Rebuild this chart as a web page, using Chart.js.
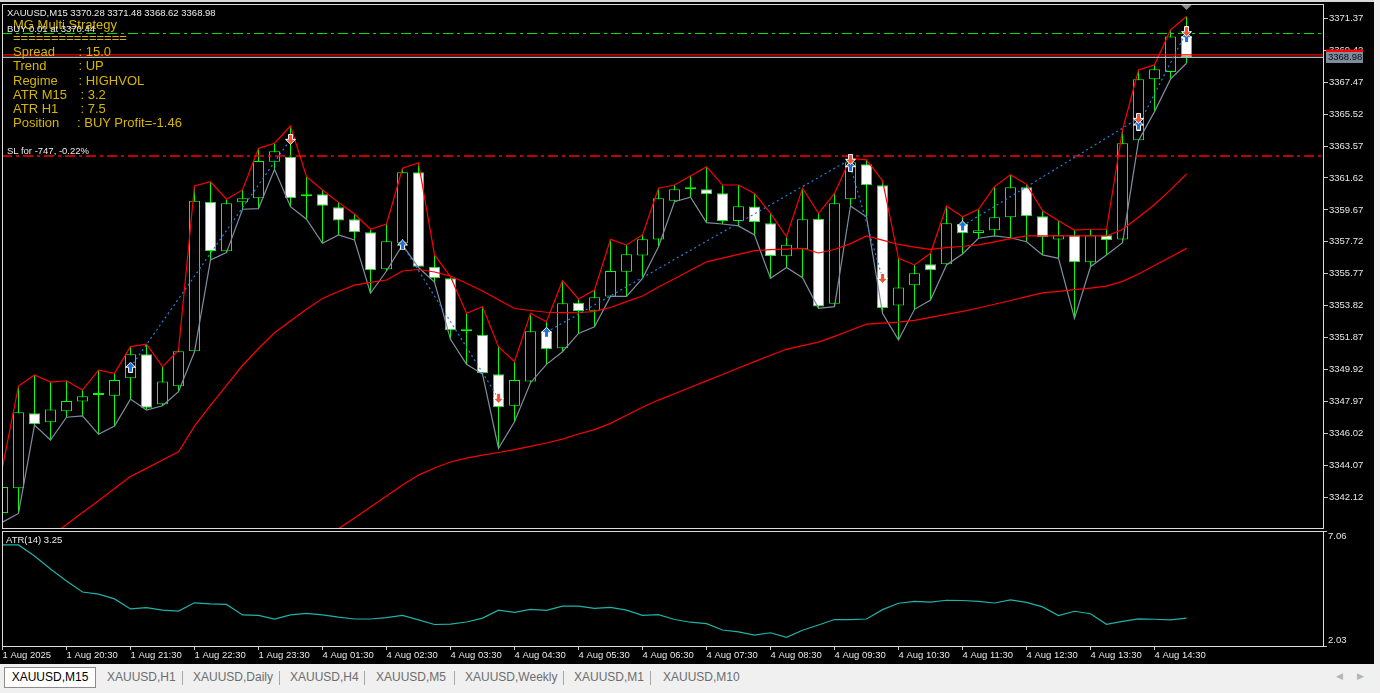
<!DOCTYPE html>
<html><head><meta charset="utf-8">
<script src="https://cdn.jsdelivr.net/npm/chart.js@4.4.1/dist/chart.umd.min.js"></script>
<style>
html,body{margin:0;padding:0;background:#000;width:1380px;height:693px;overflow:hidden;position:relative;font-family:"Liberation Sans",Arial,sans-serif}
canvas{position:absolute;left:0}
#main{top:0}
#atr{top:530px}
.t{position:absolute;white-space:pre;color:#ececec;font-size:9.5px;line-height:11px}
.g{position:absolute;white-space:pre;color:#d6b600;font-size:13px;line-height:15px}
#topbar{position:absolute;left:0;top:0;width:1380px;height:2px;background:#d8d8d8}
#rightbar{position:absolute;left:1374px;top:0;width:6px;height:664px;background:#f0f0f0}
#tabs{position:absolute;left:0;top:664px;width:1380px;height:29px;background:#f0f0f0;font-size:12px}
.tab{position:absolute;top:6px;line-height:14px;color:#6d6d6d;white-space:pre}
.act{position:absolute;left:4px;top:3px;width:90px;height:19px;border:1px solid #8c8c8c;background:#fff;color:#000;text-align:center;line-height:19px}
.sep{position:absolute;top:7px;width:1px;height:14px;background:#a8a8a8}
.arr{position:absolute;top:7px;font-size:9px;color:#b4b4b4;font-family:"DejaVu Sans"}
</style></head>
<body>
<canvas id="main" width="1380" height="530"></canvas>
<canvas id="atr" width="1380" height="133"></canvas>
<div id="topbar"></div>
<div id="rightbar"></div>

<div class="t" id="hdr" style="left:7px;top:6.5px"></div>
<div class="g" style="left:13px;top:16.5px">MG Multi Strategy</div>
<div class="t" style="left:7px;top:23px">BUY 0.01 at 3370.44</div>
<div class="g" style="left:13px;top:29.5px">===============</div>
<div class="g" style="left:13px;top:44px">Spread</div><div class="g" style="left:78.5px;top:44px">: 15.0</div>
<div class="g" style="left:13px;top:58px">Trend</div><div class="g" style="left:78.5px;top:58px">: UP</div>
<div class="g" style="left:13px;top:72.5px">Regime</div><div class="g" style="left:78.5px;top:72.5px">: HIGHVOL</div>
<div class="g" style="left:13px;top:86.8px">ATR M15</div><div class="g" style="left:80.5px;top:86.8px">: 3.2</div>
<div class="g" style="left:13px;top:100.8px">ATR H1</div><div class="g" style="left:80.5px;top:100.8px">: 7.5</div>
<div class="g" style="left:13px;top:114.8px">Position</div><div class="g" style="left:77px;top:114.8px">: BUY Profit=-1.46</div>
<div class="t" style="left:7px;top:145px">SL for -747, -0.22%</div>
<div class="t" style="left:6px;top:534px">ATR(14) 3.25</div>

<div id="tabs">
  <div class="act">XAUUSD,M15</div>
  <div class="tab" style="left:107px">XAUUSD,H1</div>
  <div class="sep" style="left:182px"></div>
  <div class="tab" style="left:193px">XAUUSD,Daily</div>
  <div class="sep" style="left:279px"></div>
  <div class="tab" style="left:290px">XAUUSD,H4</div>
  <div class="sep" style="left:364px"></div>
  <div class="tab" style="left:376px">XAUUSD,M5</div>
  <div class="sep" style="left:454px"></div>
  <div class="tab" style="left:465px">XAUUSD,Weekly</div>
  <div class="sep" style="left:563px"></div>
  <div class="tab" style="left:574px">XAUUSD,M1</div>
  <div class="sep" style="left:650px"></div>
  <div class="tab" style="left:663px">XAUUSD,M10</div>
  <div class="arr" style="left:1336px">&#9664;</div>
  <div class="arr" style="left:1357px">&#9654;</div>
</div>

<script>
// ---------- data ----------
const OPEN = [3341.16,3342.67,3347.25,3346.70,3347.37,3347.98,3348.37,3348.32,3349.39,3350.85,
3347.80,3348.90,3351.04,3360.17,3357.14,3360.13,3360.38,3362.61,3362.92,3360.50,
3360.62,3359.83,3359.10,3358.30,3356.04,3357.63,3361.97,3356.20,3355.49,3352.26,
3352.05,3349.63,3347.71,3349.20,3352.26,3351.22,3354.00,3353.51,3354.39,3355.90,
3356.89,3357.87,3360.23,3360.93,3360.93,3360.68,3358.99,3359.87,3358.85,3356.84,
3357.26,3359.13,3353.94,3360.32,3362.45,3361.17,3353.84,3355.07,3356.35,3356.35,
3358.81,3358.26,3358.42,3359.22,3361.05,3359.28,3357.87,3358.12,3356.47,3358.12,
3357.87,3363.92,3367.65,3368.09,3370.28];
const HIGH = [3343.97,3348.92,3349.59,3349.16,3349.24,3348.67,3349.89,3349.69,3351.32,3351.48,
3350.10,3351.11,3361.13,3361.39,3360.32,3360.89,3363.43,3363.74,3364.79,3361.70,
3360.89,3360.13,3359.42,3358.49,3358.81,3362.21,3362.55,3356.92,3355.59,3353.36,
3353.76,3351.32,3350.40,3353.36,3352.84,3355.35,3354.23,3354.78,3357.87,3357.53,
3358.14,3360.99,3361.19,3361.74,3362.31,3361.19,3361.19,3360.68,3359.46,3358.03,
3360.99,3359.46,3360.68,3362.82,3362.72,3361.45,3356.71,3356.31,3357.02,3359.91,
3359.25,3359.71,3361.09,3361.82,3361.23,3359.62,3359.01,3358.44,3358.49,3358.49,
3364.55,3368.21,3368.52,3370.66,3371.48];
const LOW = [3340.61,3341.14,3346.53,3345.62,3347.01,3347.10,3345.97,3346.47,3348.12,3347.45,
3347.71,3348.57,3351.01,3356.61,3357.06,3359.71,3359.75,3362.15,3359.87,3359.10,
3357.63,3358.14,3357.83,3354.58,3355.94,3357.53,3356.15,3355.27,3351.77,3350.24,
3349.65,3345.11,3346.74,3349.12,3350.24,3351.01,3352.13,3352.54,3354.39,3354.39,
3355.49,3357.42,3360.17,3360.44,3358.89,3358.81,3358.69,3358.14,3355.49,3356.16,
3355.53,3353.66,3353.76,3359.91,3359.25,3353.36,3351.73,3353.60,3354.17,3356.31,
3356.98,3357.94,3358.08,3357.97,3357.73,3356.92,3356.71,3353.05,3356.20,3356.92,
3357.67,3363.90,3365.67,3367.65,3368.62];
const CLOSE = [3342.75,3347.31,3346.58,3347.49,3348.00,3348.29,3348.37,3349.28,3350.85,3347.59,
3349.20,3351.04,3360.23,3357.16,3360.07,3360.38,3362.66,3363.25,3360.38,3360.62,
3359.93,3359.03,3358.30,3355.98,3357.75,3361.97,3356.20,3355.49,3352.32,3352.26,
3349.69,3347.62,3349.28,3352.26,3351.16,3353.97,3353.50,3354.33,3355.94,3356.96,
3357.88,3360.38,3360.93,3360.93,3360.62,3358.99,3359.89,3358.93,3356.85,3357.54,
3359.10,3353.78,3360.07,3362.58,3361.17,3353.66,3354.94,3355.80,3355.98,3358.85,
3358.24,3358.42,3359.22,3361.05,3359.28,3358.00,3358.12,3356.47,3358.12,3357.83,
3363.74,3367.65,3368.26,3370.25,3368.98];
const MA_FAST = [null,null,null,
3339.73,3340.46,3341.19,3341.92,3342.66,3343.39,3343.89,3344.40,3344.90,
3346.47,3347.73,3348.95,3350.17,3351.21,3352.17,3352.89,3353.60,3354.26,
3354.69,3355.08,3355.24,3355.39,3355.94,3356.03,3355.88,3355.63,3355.19,3354.72,
3354.18,3353.65,3353.53,3353.42,3353.40,3353.39,3353.47,3353.71,3354.07,3354.41,
3354.96,3355.47,3355.98,3356.50,3356.73,3356.95,3357.18,3357.25,3357.28,3357.32,
3357.04,3357.25,3357.61,3358.08,3357.82,3357.56,3357.40,3357.26,3357.37,3357.45,
3357.53,3357.72,3357.92,3358.08,3358.08,3358.08,3358.08,3358.08,3358.08,
3358.47,3359.22,3360.00,3360.89,3361.86];
const MA_SLOW = [null,null,null,null,null,null,null,null,null,null,
null,null,null,null,null,null,null,null,null,null,
3339.63,3340.21,3340.86,3341.53,3342.20,3342.87,3343.48,3343.91,3344.28,3344.52,
3344.70,3344.86,3345.04,3345.23,3345.44,3345.68,3345.99,3346.26,3346.64,3347.13,
3347.62,3348.06,3348.45,3348.84,3349.23,3349.62,3350.02,3350.41,3350.80,3351.16,
3351.38,3351.60,3351.95,3352.32,3352.70,3352.76,3352.82,3352.93,3353.11,3353.29,
3353.48,3353.68,3353.91,3354.14,3354.38,3354.60,3354.70,3354.80,3354.90,3355.02,
3355.31,3355.76,3356.27,3356.79,3357.32];
const ATR = [6.45,6.45,5.97,5.40,4.87,4.39,4.30,4.09,3.65,3.71,
3.60,3.56,3.92,3.87,3.85,3.39,3.37,3.21,3.39,3.46,
3.39,3.29,3.21,3.21,3.27,3.37,3.17,2.97,2.99,3.08,
3.25,3.60,3.50,3.63,3.59,3.77,3.77,3.68,3.72,3.60,
3.37,3.40,3.19,3.07,3.01,2.73,2.65,2.51,2.61,2.41,
2.72,2.95,3.19,3.18,3.21,3.62,3.90,3.98,3.95,4.03,
4.02,3.98,3.91,4.05,3.94,3.74,3.36,3.55,3.44,2.98,
3.11,3.22,3.20,3.17,3.25];
// trades: buy entries (blue) and closes (red)
const BUY_BAR = [8,25,34,53,60,71,74];
const BUY_PRICE = [3350.06,3357.53,3352.20,3362.31,3358.69,3364.85,3370.19];
const CLOSE_BAR = [18,31,53,55,71,74];
const CLOSE_PRICE = [3363.98,3348.17,3362.76,3355.49,3365.26,3370.55];
// levels
const ENTRY_PRICE = 3370.44;
const SL_PRICE = 3362.96;
const ASK = 3369.13;
const BID = 3368.98;
// axis ticks
const PRICE_TICKS = [3342.12,3344.07,3346.02,3347.97,3349.92,3351.87,3353.82,3355.77,3357.72,3359.67,3361.62,3363.57,3365.52,3367.47,3369.42,3371.37];
const ATR_TICKS = [2.03, 7.06];
const TIME_TICK_BARS = [0,4,8,12,16,20,24,28,32,36,40,44,48,52,56,60,64,68,72];
const TIME_LABELS = ['1 Aug 2025','1 Aug 20:30','1 Aug 21:30','1 Aug 22:30','1 Aug 23:30','4 Aug 01:30','4 Aug 02:30','4 Aug 03:30','4 Aug 04:30','4 Aug 05:30','4 Aug 06:30','4 Aug 07:30','4 Aug 08:30','4 Aug 09:30','4 Aug 10:30','4 Aug 11:30','4 Aug 12:30','4 Aug 13:30','4 Aug 14:30'];

// ---------- view ----------
const X_MIN = -0.03125, X_MAX = 82.53;
const Y_MIN = 3340.25, Y_MAX = 3372.24;
const FONT = {family:'Liberation Sans', size:9.5};
const CANDLE = '#00ff00';
const last = OPEN.length - 1;
document.getElementById('hdr').textContent =
  'XAUUSD,M15 ' + [OPEN[last],HIGH[last],LOW[last],CLOSE[last]].map(v=>v.toFixed(2)).join(' ');

function arrowImg(fill, down){
  const c = document.createElement('canvas'); c.width = 11; c.height = 11;
  const g = c.getContext('2d');
  if (down){ g.translate(0,11); g.scale(1,-1); }
  g.beginPath();
  g.moveTo(5.5,0.5); g.lineTo(10.5,5.5); g.lineTo(7.5,5.5); g.lineTo(7.5,10.5);
  g.lineTo(3.5,10.5); g.lineTo(3.5,5.5); g.lineTo(0.5,5.5); g.closePath();
  g.fillStyle = fill; g.fill(); g.strokeStyle = '#ffffff'; g.lineWidth = 1; g.stroke();
  return c;
}

const framePlugin = {
  id:'frame',
  afterDraw(chart){
    const {ctx, chartArea:a} = chart;
    ctx.save(); ctx.strokeStyle = '#dcdcdc'; ctx.lineWidth = 1;
    const l = Math.floor(a.left)+0.5, t = Math.floor(a.top)+0.5;
    ctx.strokeRect(l, t, Math.round(a.right)-Math.floor(a.left), Math.round(a.bottom)-Math.floor(a.top));
    ctx.restore();
  }
};
const boxPlugin = {
  id:'boxes',
  afterDraw(chart){
    const {ctx, chartArea:a, scales} = chart;
    const ys = scales.y, xs = scales.x;
    ctx.save();
    const ay = Math.round(ys.getPixelForValue(ASK));
    ctx.fillStyle = '#ff0000'; ctx.fillRect(a.right+3, ay-5.5, 37, 11);
    const by = Math.round(ys.getPixelForValue(BID));
    ctx.fillStyle = '#7f8c9b'; ctx.fillRect(a.right+3, by-5, 37, 11);
    ctx.fillStyle = '#0a0a14'; ctx.font = '9.5px "Liberation Sans"'; ctx.textBaseline = 'middle';
    ctx.fillText(BID.toFixed(2), a.right+5, by+0.5);
    // last-bar marker at top edge
    const lx = xs.getPixelForValue(last);
    ctx.fillStyle = '#8c8c8c'; ctx.beginPath();
    ctx.moveTo(lx-5, a.top+1); ctx.lineTo(lx+5, a.top+1); ctx.lineTo(lx, a.top+6); ctx.closePath(); ctx.fill();
    ctx.restore();
  }
};

const idx = OPEN.map((_,i)=>i);
const hline = (price, color, dash, w) => ({
  type:'line', data:[{x:X_MIN,y:price},{x:X_MAX,y:price}], borderColor:color, borderWidth:w || 1,
  borderDash:dash, pointRadius:0, tension:0, fill:false
});
const series = (arr, color) => ({
  type:'line', data: arr.map((v,i)=>({x:i,y:v})), borderColor:color, borderWidth:1.2,
  pointRadius:0, tension:0, fill:false, spanGaps:false
});

const datasets = [];
datasets.push({type:'line', data: CLOSE_BAR.map((b,i)=>({x:b,y:CLOSE_PRICE[i]})), showLine:false,
  pointStyle: arrowImg('#ec5432', true), pointRadius:5});
datasets.push({type:'line', data: BUY_BAR.map((b,i)=>({x:b,y:BUY_PRICE[i]})), showLine:false,
  pointStyle: arrowImg('#1f6fd6', false), pointRadius:5});
CLOSE_BAR.forEach((b,i)=>{
  datasets.push({type:'line', data:[{x:BUY_BAR[i],y:BUY_PRICE[i]},{x:b,y:CLOSE_PRICE[i]}],
    borderColor:'#2a7ee0', borderWidth:1.2, borderDash:[2,3], pointRadius:0, tension:0, fill:false});
});
datasets.push(hline(ENTRY_PRICE, '#00e000', [10,4,3,4], 1.2));
datasets.push(hline(SL_PRICE, '#ff0000', [10,4,3,4], 1.3));
datasets.push(hline(ASK, '#ff0000', [], 1.2));
datasets.push(hline(BID, '#b4b4b4', [], 1.2));
datasets.push(series(MA_FAST, '#ff0000'));
datasets.push(series(MA_SLOW, '#ff0000'));
datasets.push(series(HIGH, '#ff0000'));
datasets.push(series(LOW, '#7f8fa0'));
datasets.push({type:'bar', data: idx.map(i=>({x:i, y:[OPEN[i], CLOSE[i]]})),
  backgroundColor: idx.map(i=> CLOSE[i] < OPEN[i] ? '#ffffff' : '#000000'),
  borderColor: CANDLE, borderWidth:1, borderSkipped:false, inflateAmount:0,
  grouped:false, maxBarThickness:11, minBarLength:2, clip:0});
datasets.push({type:'bar', data: idx.map(i=>({x:i, y:[LOW[i], HIGH[i]]})),
  backgroundColor: CANDLE, borderWidth:0, inflateAmount:0,
  grouped:false, maxBarThickness:1, clip:0});

new Chart(document.getElementById('main'), {
  type:'bar',
  data:{datasets},
  options:{
    responsive:false, animation:false, events:[],
    layout:{autoPadding:false, padding:{left:2, top:4, right:0, bottom:2}},
    plugins:{legend:{display:false}, tooltip:{enabled:false}},
    scales:{
      x:{type:'linear', min:X_MIN, max:X_MAX, offset:false, display:false, grid:{offset:false}},
      y:{position:'right', min:Y_MIN, max:Y_MAX,
        afterBuildTicks: s => { s.ticks = PRICE_TICKS.map(v=>({value:v})); },
        afterFit: s => { s.width = 57; s.paddingTop = 0; s.paddingBottom = 0; },
        grid:{drawOnChartArea:false, drawTicks:true, tickLength:5, color:'#c8c8c8'},
        border:{display:false},
        ticks:{autoSkip:false, padding:1, color:'#e6e6e6', font:FONT, callback: v => Number(v).toFixed(2)}
      }
    }
  },
  plugins:[framePlugin, boxPlugin]
});

new Chart(document.getElementById('atr'), {
  type:'line',
  data:{datasets:[{data: ATR.map((v,i)=>({x:i,y:v})), borderColor:'#20b2aa', borderWidth:1.2, pointRadius:0, tension:0, fill:false}]},
  options:{
    responsive:false, animation:false, events:[],
    layout:{autoPadding:false, padding:{left:2, top:1, right:0, bottom:0}},
    plugins:{legend:{display:false}, tooltip:{enabled:false}},
    scales:{
      x:{type:'linear', position:'bottom', min:X_MIN, max:X_MAX, offset:false,
        afterBuildTicks: s => { s.ticks = TIME_TICK_BARS.map(v=>({value:v})); },
        afterFit: s => { s.height = 17; s.paddingLeft = 0; s.paddingRight = 0; },
        grid:{drawOnChartArea:false, drawTicks:true, tickLength:4, color:'#c8c8c8'},
        border:{display:false},
        ticks:{autoSkip:false, maxRotation:0, minRotation:0, align:'start', padding:0, color:'#e6e6e6', font:FONT,
          callback: (v, i) => TIME_LABELS[i]}
      },
      y:{position:'right', min:ATR_TICKS[0], max:ATR_TICKS[1],
        afterBuildTicks: s => { s.ticks = ATR_TICKS.map(v=>({value:v})); },
        afterFit: s => { s.width = 57; s.paddingTop = 0; s.paddingBottom = 0; },
        grid:{drawOnChartArea:false, drawTicks:true, tickLength:4, color:'#c8c8c8'},
        border:{display:false},
        ticks:{autoSkip:false, padding:1, color:'#e6e6e6', font:FONT,
          callback: v => v === ATR_TICKS[1] ? ['', Number(v).toFixed(2)] : [Number(v).toFixed(2), '']}
      }
    }
  },
  plugins:[framePlugin]
});
</script>
</body></html>
